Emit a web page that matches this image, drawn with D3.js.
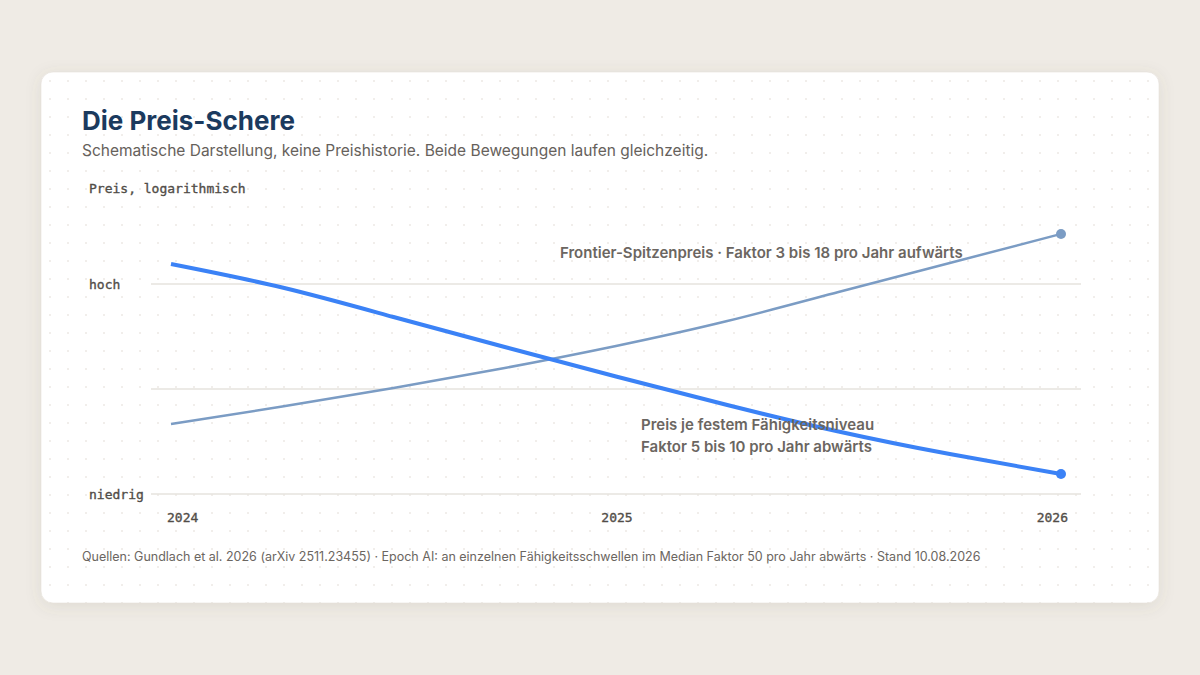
<!DOCTYPE html>
<html>
<head>
<meta charset="utf-8" />
<title>Die Preis-Schere</title>
<script src="https://d3js.org/d3.v7.min.js"></script>
<style>
  html, body { margin: 0; padding: 0; background: #efebe5; }
  svg { display: block; }
</style>
</head>
<body>
<div id="chart"></div>
<script>
// years on the x axis
const years = [2024, 2024.25, 2024.5, 2024.75, 2025, 2025.25, 2025.5, 2025.75, 2026];
const yearTicks = [2024, 2025, 2026];

// schematic price levels (log scale, arbitrary units)
const fixedCapability = [155, 92.6, 48.5, 25.1, 13.15, 7.04, 3.94, 2.40, 1.55];
const frontierPrice = [4.64, 6.81, 10.2, 15.85, 25.7, 44.4, 83.9, 158.5, 299.5];

const yTicks = [1, 10, 100];
const yTickLabels = ["niedrig", "", "hoch"];

const W = 1200, H = 675;
const card = { x: 41, y: 72, w: 1118, h: 531 };

const svg = d3.select("#chart").append("svg")
  .attr("width", W).attr("height", H);

const defs = svg.append("defs");
const pat = defs.append("pattern")
  .attr("id", "dots").attr("patternUnits", "userSpaceOnUse")
  .attr("x", card.x).attr("y", card.y)
  .attr("width", 18).attr("height", 18);
pat.append("circle").attr("cx", 9).attr("cy", 9).attr("r", 1).attr("fill", "#ece9e4");

const shadow = defs.append("filter").attr("id", "shadow")
  .attr("x", "-10%").attr("y", "-10%").attr("width", "120%").attr("height", "130%");
shadow.append("feDropShadow").attr("dx", 0).attr("dy", 3).attr("stdDeviation", 8)
  .attr("flood-color", "#6b5e4a").attr("flood-opacity", 0.12);

svg.append("rect")
  .attr("x", card.x).attr("y", card.y).attr("width", card.w).attr("height", card.h)
  .attr("rx", 12).attr("fill", "#fff").attr("filter", "url(#shadow)");
svg.append("rect")
  .attr("x", card.x).attr("y", card.y).attr("width", card.w).attr("height", card.h)
  .attr("rx", 12).attr("fill", "url(#dots)").attr("stroke", "#e6e1da").attr("stroke-width", 0.6);

const sans = "Inter, 'Noto Sans', sans-serif";
const mono = "'DejaVu Sans Mono', monospace";
const monoColor = "#514d48";

svg.append("text").attr("x", 82).attr("y", 130)
  .attr("font-family", sans).attr("font-size", 26).attr("font-weight", 700)
  .attr("fill", "#1b3a5e").text("Die Preis-Schere");
svg.append("text").attr("x", 82).attr("y", 156)
  .attr("font-family", sans).attr("font-size", 15.5)
  .attr("fill", "#66615b")
  .text("Schematische Darstellung, keine Preishistorie. Beide Bewegungen laufen gleichzeitig.");

svg.append("text").attr("x", 89).attr("y", 193)
  .attr("font-family", mono).attr("font-size", 13)
  .attr("fill", monoColor).attr("stroke", monoColor).attr("stroke-width", 0.35)
  .text("Preis, logarithmisch");

// scales
const x = d3.scaleLinear().domain([2024, 2026]).range([171, 1061]);
const y = d3.scaleLog().domain([1, 100]).range([494, 284]);

// grid lines
const grid = svg.append("g");
grid.selectAll("line").data(yTicks).join("line")
  .attr("x1", 151).attr("x2", 1081)
  .attr("y1", d => y(d)).attr("y2", d => y(d))
  .attr("stroke", "#e6e3de").attr("stroke-width", 1.5);
grid.selectAll("text").data(yTicks).join("text")
  .attr("x", 89).attr("y", d => y(d) + 5)
  .attr("font-family", mono).attr("font-size", 13)
  .attr("fill", monoColor).attr("stroke", monoColor).attr("stroke-width", 0.35)
  .text((d, i) => yTickLabels[i]);

// x labels
svg.append("g").selectAll("text").data(yearTicks).join("text")
  .attr("x", (d, i) => x(d) + [-4, 1, 7][i])
  .attr("y", 522)
  .attr("text-anchor", (d, i) => ["start", "middle", "end"][i])
  .attr("font-family", mono).attr("font-size", 13)
  .attr("fill", monoColor).attr("stroke", monoColor).attr("stroke-width", 0.35)
  .text(d => d);

const line = d3.line().x(d => x(d[0])).y(d => y(d[1])).curve(d3.curveNatural);

const series = [
  { values: frontierPrice, color: "#7b9cc4", width: 2.5 },
  { values: fixedCapability, color: "#3b82f6", width: 4 }
];

series.forEach(s => {
  const pts = years.map((yr, i) => [yr, s.values[i]]);
  svg.append("path").datum(pts)
    .attr("d", line).attr("fill", "none")
    .attr("stroke", s.color).attr("stroke-width", s.width)
    .attr("stroke-linecap", "butt");
  const last = pts[pts.length - 1];
  svg.append("circle").attr("cx", x(last[0])).attr("cy", y(last[1]))
    .attr("r", 5).attr("fill", s.color);
});

// annotations
const ann = { family: sans, size: 15, weight: 600, fill: "#6b6661" };
svg.append("text").attr("x", 560).attr("y", 258)
  .attr("font-family", ann.family).attr("font-size", ann.size).attr("font-weight", ann.weight)
  .attr("fill", ann.fill).text("Frontier-Spitzenpreis · Faktor 3 bis 18 pro Jahr aufwärts");
svg.append("text").attr("x", 641).attr("y", 430)
  .attr("font-family", ann.family).attr("font-size", ann.size).attr("font-weight", ann.weight)
  .attr("fill", ann.fill).text("Preis je festem Fähigkeitsniveau");
svg.append("text").attr("x", 641).attr("y", 452)
  .attr("font-family", ann.family).attr("font-size", ann.size).attr("font-weight", ann.weight)
  .attr("fill", ann.fill).text("Faktor 5 bis 10 pro Jahr abwärts");

svg.append("text").attr("x", 82).attr("y", 561)
  .attr("font-family", sans).attr("font-size", 12.5)
  .attr("fill", "#6b6661")
  .text("Quellen: Gundlach et al. 2026 (arXiv 2511.23455) · Epoch AI: an einzelnen Fähigkeitsschwellen im Median Faktor 50 pro Jahr abwärts · Stand 10.08.2026");
</script>
</body>
</html>
